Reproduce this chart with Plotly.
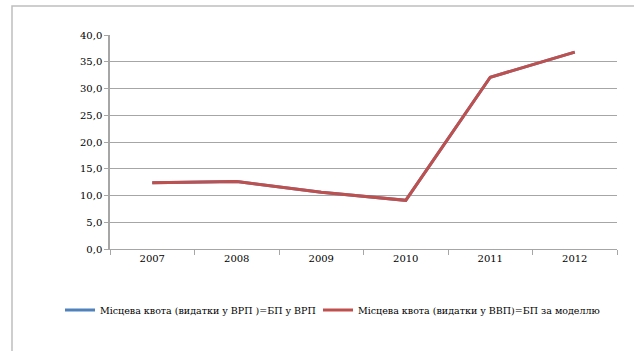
import plotly.graph_objects as go

years = ["2007", "2008", "2009", "2010", "2011", "2012"]
quota_vrp = [12.4, 12.6, 10.6, 9.1, 32.1, 36.8]
quota_model = [12.4, 12.6, 10.6, 9.1, 32.1, 36.8]
name_vrp = "Місцева квота (видатки у ВРП )=БП у ВРП"
name_model = "Місцева квота (видатки у ВВП)=БП за моделлю"
y_ticks = [0, 5, 10, 15, 20, 25, 30, 35, 40]

fig = go.Figure()
fig.add_trace(go.Scatter(x=years, y=quota_vrp, mode="lines", name=name_vrp,
                         line=dict(color="#4f81bd", width=3), legend="legend"))
fig.add_trace(go.Scatter(x=years, y=quota_model, mode="lines", name=name_model,
                         line=dict(color="#c0504d", width=3), legend="legend2"))

W, H = 634, 351
L, R, T, B = 110, 17, 35, 102
pw, ph = W - L - R, H - T - B

def px(x):
    return (x - L) / pw

def py(y):
    return (H - B - y) / ph

fig.add_shape(type="rect", xref="paper", yref="paper",
              x0=px(12), x1=px(650), y0=py(6), y1=py(370),
              line=dict(color="#bfbfbf", width=1.5), layer="below")

FONT = "DejaVu Serif"
leg_common = dict(orientation="h", xanchor="left", y=py(310), yanchor="middle",
                  font=dict(family=FONT, size=9.5), itemwidth=30,
                  bgcolor="rgba(0,0,0,0)")

fig.update_layout(
    width=W, height=H,
    margin=dict(l=L, r=R, t=T, b=B),
    paper_bgcolor="white", plot_bgcolor="white",
    separators=", ",
    font=dict(family=FONT, size=10, color="black"),
    showlegend=True,
    legend=dict(x=px(60), **leg_common),
    legend2=dict(x=px(318), **leg_common),
    xaxis=dict(type="category", showgrid=False, showline=True, linecolor="#a6a6a6",
               linewidth=1, ticks="outside", tickson="boundaries", ticklen=5,
               tickcolor="#a6a6a6", range=[-0.5, 5.5], fixedrange=True),
    yaxis=dict(range=[0, 40], tickvals=y_ticks, tickformat=".1f", showgrid=True,
               gridcolor="#a6a6a6", gridwidth=1, showline=True, linecolor="#a6a6a6",
               linewidth=1.5, ticks="outside", ticklen=4, tickcolor="#a6a6a6",
               zeroline=False, fixedrange=True),
)

fig.write_html("out.html")
